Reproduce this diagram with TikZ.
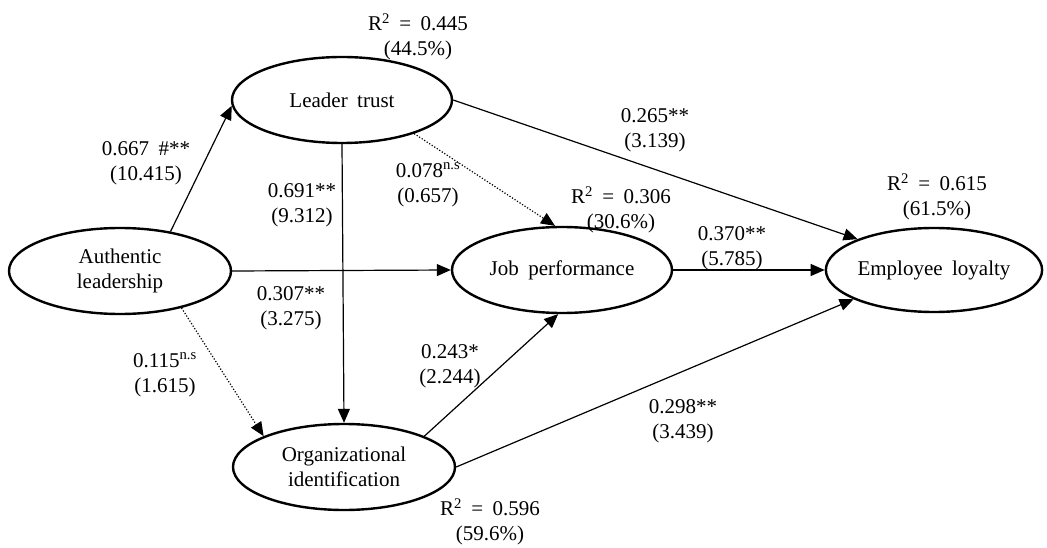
\documentclass[tikz,border=0pt]{standalone}
\usepackage{fontspec}
\setmainfont{Liberation Serif}[WordSpace=1.8]
\usetikzlibrary{arrows.meta,shapes.geometric}
\tikzset{
  construct/.style={draw, ellipse, line width=2.4pt, inner sep=0pt, align=center},
  path/.style={line width=1.2pt, -{Triangle[length=14pt,width=12pt]}},
  nspath/.style={path, dash pattern=on 1.2pt off 1.8pt},
  lbl/.style={align=center, inner sep=0pt}
}
\begin{document}
\begin{tikzpicture}[x=1pt,y=-1pt,font=\fontsize{21}{25}\selectfont]
\useasboundingbox (0,0) rectangle (1047,548);
% constructs
\node[construct, minimum width=222pt, minimum height=86pt] (AL) at (120,271) {Authentic\\leadership};
\node[construct, minimum width=220pt, minimum height=86pt] (LT) at (342,100) {Leader trust};
\node[construct, minimum width=220pt, minimum height=86pt] (JP) at (562,270) {Job performance};
\node[construct, minimum width=216pt, minimum height=84pt] (EL) at (934,270) {Employee loyalty};
\node[construct, minimum width=222pt, minimum height=86pt] (OI) at (344,467) {Organizational\\identification};
% paths
\draw[path] (AL.38) -- (LT.183);
\draw[path] (LT.south) -- (OI.north);
\draw[path] (LT.east) -- (EL.158);
\draw[nspath] (LT.335) -- (JP.99);
\draw[path] (AL.east) -- (JP.west);
\draw[nspath] (AL.329) -- (OI.159);
\draw[path] (OI.21) -- (JP.265);
\draw[path] (OI.east) -- (EL.200);
\draw[path] (JP.east) -- (EL.west);
% labels
\node[lbl] (r2lt) at (418,37) {R\textsuperscript{2} = 0.445\\(44.5\%)};
\node[lbl] (r2jp) at (621,210) {R\textsuperscript{2} = 0.306\\(30.6\%)};
\node[lbl] (r2el) at (937,197) {R\textsuperscript{2} = 0.615\\(61.5\%)};
\node[lbl] (r2oi) at (490,522) {R\textsuperscript{2} = 0.596\\(59.6\%)};
\node[lbl] (c1) at (146,163) {0.667 \#**\\(10.415)};
\node[lbl] (c2) at (302,205) {0.691**\\(9.312)};
\node[lbl] (c3) at (428,185) {0.078\textsuperscript{n.s}\\(0.657)};
\node[lbl] (c4) at (655,130) {0.265**\\(3.139)};
\node[lbl] (c5) at (732,248) {0.370**\\(5.785)};
\node[lbl] (c6) at (291,308) {0.307**\\(3.275)};
\node[lbl] (c7) at (165,375) {0.115\textsuperscript{n.s}\\(1.615)};
\node[lbl] (c8) at (450,366) {0.243*\\(2.244)};
\node[lbl] (c9) at (683,421) {0.298**\\(3.439)};
\end{tikzpicture}
\end{document}
